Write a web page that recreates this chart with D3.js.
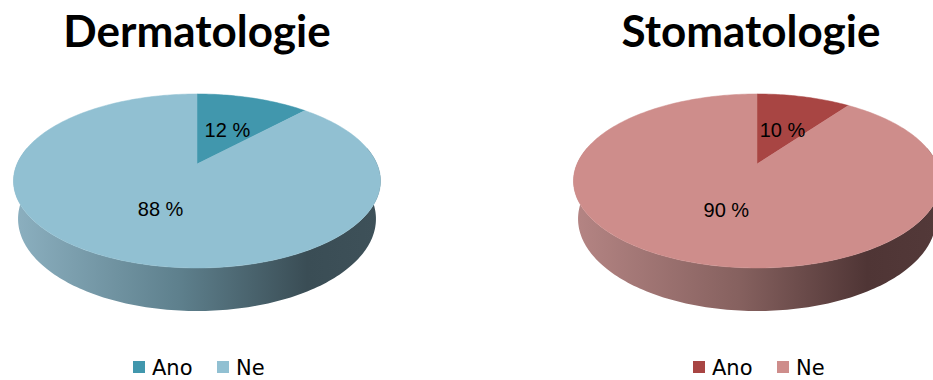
<!DOCTYPE html>
<html lang="cs">
<head>
    <meta charset="UTF-8">
    <title>Dermatologie / Stomatologie</title>
    <script src="https://d3js.org/d3.v7.min.js"></script>
    <style>
        body {
            margin: 0;
            background-color: #ffffff;
        }
        .title {
            font-family: Lato, 'Open Sans', sans-serif;
            font-weight: bold;
            font-size: 44px;
            fill: #000;
        }
        .pct {
            font-family: 'Liberation Sans', Arial, sans-serif;
            font-size: 20px;
            fill: #000;
        }
        .legend text {
            font-family: 'DejaVu Sans', Verdana, sans-serif;
            font-size: 21px;
            fill: #000;
        }
    </style>
</head>
<body>
    <svg id="chart"></svg>

    <script>
        const categories = ["Ano", "Ne"];
        const titles = ["Dermatologie", "Stomatologie"];
        const dermatologie = [12, 88];
        const stomatologie = [10, 90];

        const panels = [
            {title: titles[0], values: dermatologie, cx: 197, titleX: 197,
             colors: ["#4197ad", "#91c0d2"], side: ["#8cb0c0", "#5e808d", "#3a4d55", "#3e5159"]},
            {title: titles[1], values: stomatologie, cx: 757, titleX: 751,
             colors: ["#a84543", "#ce8d8b"], side: ["#b58584", "#86615f", "#4f3535", "#533939"]}
        ];

        const width = 933, height = 380;
        const cy = 164;          // pie apex on screen
        const R = 180;           // radius in px
        const tilt = 0.465;      // sin of tilt
        const cosT = Math.sqrt(1 - tilt * tilt);
        const D = 4.54;          // perspective distance
        const thick = 0.24;      // pie thickness (radius units)

        const svg = d3.select("#chart")
            .attr("width", width)
            .attr("height", height);

        const defs = svg.append("defs");

        // angle a runs clockwise from the back of the pie
        function project(cx, a, r, depth) {
            const X = r * Math.sin(a), Z = -r * Math.cos(a), Y = -depth;
            const yc = Y * cosT - Z * tilt;
            const zc = Y * tilt + Z * cosT;
            const f = D / (D - zc);
            return [cx + R * X * f, cy - R * yc * f];
        }

        function arcPoints(cx, a0, a1, depth) {
            const n = Math.max(2, Math.ceil(Math.abs(a1 - a0) / 0.02));
            return d3.range(n + 1).map(i => project(cx, a0 + (a1 - a0) * i / n, 1, depth));
        }

        const pie = d3.pie().sort(null).value(d => d);

        panels.forEach((p, pi) => {
            const g = svg.append("g");
            const arcs = pie(p.values);

            // side wall gradient
            const gradId = "side" + pi;
            const grad = defs.append("linearGradient")
                .attr("id", gradId)
                .attr("gradientUnits", "userSpaceOnUse")
                .attr("x1", p.cx - R * 1.02).attr("x2", p.cx + R * 1.02)
                .attr("y1", 0).attr("y2", 0);
            [0, 0.45, 0.8, 1].forEach((o, i) => {
                grad.append("stop").attr("offset", o).attr("stop-color", p.side[i]);
            });

            const a0 = Math.PI / 2 - 0.2, a1 = 3 * Math.PI / 2 + 0.2;
            const sidePts = arcPoints(p.cx, a0, a1, 0).concat(arcPoints(p.cx, a1, a0, thick));
            g.append("path")
                .attr("d", d3.line()(sidePts) + "Z")
                .attr("fill", `url(#${gradId})`);

            // top face slices
            g.selectAll(".slice")
                .data(arcs)
                .enter().append("path")
                .attr("class", "slice")
                .attr("d", d => {
                    const pts = [project(p.cx, 0, 0, 0)].concat(arcPoints(p.cx, d.startAngle, d.endAngle, 0));
                    return d3.line()(pts) + "Z";
                })
                .attr("fill", (d, i) => p.colors[i])
                .attr("stroke", (d, i) => p.colors[i])
                .attr("stroke-width", 0.5);

            // percentage labels
            g.selectAll(".pct")
                .data(arcs)
                .enter().append("text")
                .attr("class", "pct")
                .attr("text-anchor", "middle")
                .attr("x", d => project(p.cx, (d.startAngle + d.endAngle) / 2, 0.5, 0)[0])
                .attr("y", d => project(p.cx, (d.startAngle + d.endAngle) / 2, 0.5, 0)[1] + 9)
                .text(d => d.data + " %");

            // title
            svg.append("text")
                .attr("class", "title")
                .attr("x", p.titleX)
                .attr("y", 47)
                .attr("text-anchor", "middle")
                .text(p.title);

            // legend
            const legend = svg.append("g")
                .attr("class", "legend")
                .attr("transform", `translate(${p.cx - 64},0)`);
            const lx = [0, 84];
            categories.forEach((c, i) => {
                legend.append("rect")
                    .attr("x", lx[i]).attr("y", 361)
                    .attr("width", 12).attr("height", 12)
                    .attr("fill", p.colors[i]);
                legend.append("text")
                    .attr("x", lx[i] + 19).attr("y", 374.5)
                    .text(c);
            });
        });
    </script>
</body>
</html>
